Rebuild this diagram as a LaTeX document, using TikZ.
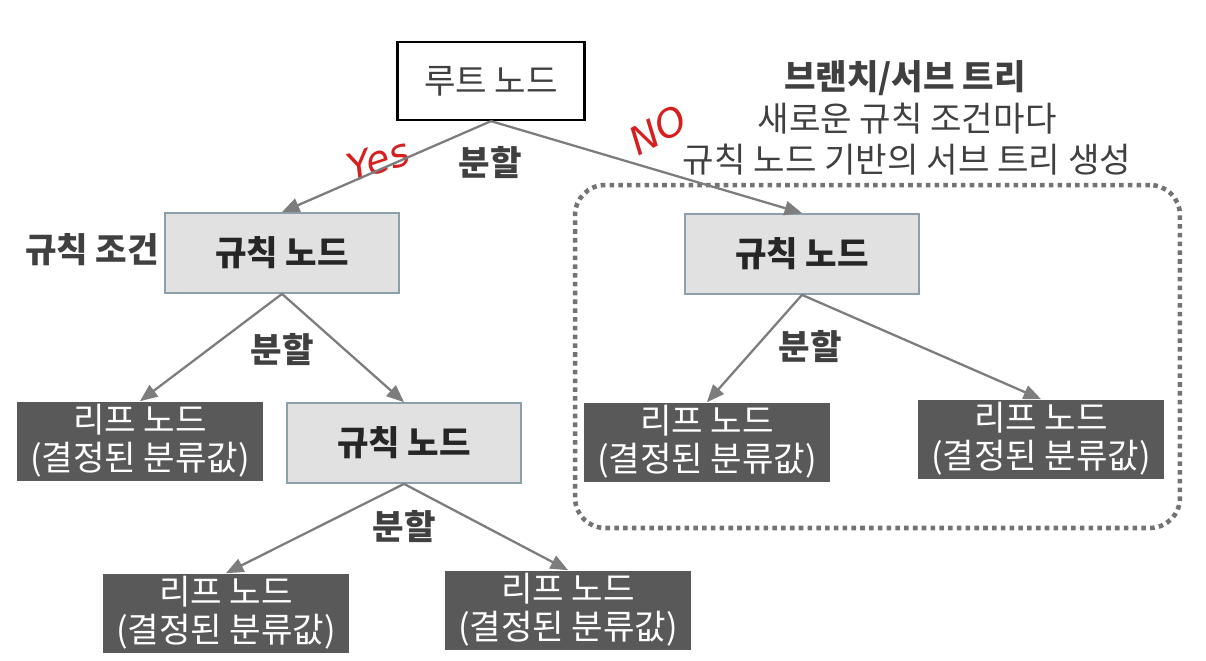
\documentclass[tikz,border=0pt]{standalone}
\usepackage{fontspec}
\setmainfont{Noto Sans CJK KR}
\newfontfamily\penfont{DejaVu Sans}
\usetikzlibrary{shapes.geometric, arrows}
\definecolor{rulefill}{RGB}{225,225,225}
\definecolor{ruleline}{RGB}{140,160,172}
\definecolor{leaffill}{RGB}{89,89,89}
\definecolor{edgegray}{RGB}{125,125,125}
\definecolor{textgray}{RGB}{64,64,64}
\definecolor{penred}{RGB}{214,32,32}
\newcommand{\bodyfont}{\fontsize{19.5}{21.5}\selectfont}
\tikzstyle{rootnode} = [rectangle, minimum width=3.74cm, minimum height=1.56cm, text centered, draw=black, line width=1.3pt, fill=white, text=textgray, font=\bodyfont]
\tikzstyle{rulenode} = [rectangle, minimum width=4.68cm, minimum height=1.6cm, text centered, draw=ruleline, line width=1pt, fill=rulefill, text=black!85, font=\bodyfont\bfseries]
\tikzstyle{leafnode} = [rectangle, minimum width=4.94cm, minimum height=1.58cm, inner sep=0pt, align=center, fill=leaffill, text=white, font=\bodyfont]
\tikzstyle{splittext} = [text=textgray, font=\bodyfont\bfseries]
\tikzstyle{note} = [text=textgray, font=\bodyfont]
\tikzstyle{pen} = [text=penred, font=\penfont\itshape\fontsize{22}{24}\selectfont, inner sep=0pt]
\tikzstyle{subtree} = [rectangle, rounded corners=0.6cm, draw=black!55, line width=2.6pt, dash pattern=on 2.6pt off 2.4pt, minimum width=12.1cm, minimum height=6.86cm]
\tikzstyle{edge} = [draw=edgegray, line width=1.3pt, ->, >=triangle 45]

\begin{document}
\begin{tikzpicture}[x=0.02cm, y=-0.02cm]
\useasboundingbox (0,0) rectangle (1206,660);

\node (box) [subtree] at (877.5,356.5) {};

\node (0) [rootnode] at (491,81) {루트 노드};
\node (1) [rulenode] at (282,253) {규칙 노드};
\node (2) [rulenode] at (802,254) {규칙 노드};
\node (3) [leafnode] at (140,441) {리프 노드\\(결정된 분류값)};
\node (4) [rulenode] at (404,443) {규칙 노드};
\node (5) [leafnode] at (226,613) {리프 노드\\(결정된 분류값)};
\node (6) [leafnode] at (568,610) {리프 노드\\(결정된 분류값)};
\node (7) [leafnode] at (707,442) {리프 노드\\(결정된 분류값)};
\node (8) [leafnode] at (1041,439) {리프 노드\\(결정된 분류값)};

\node (s0) [splittext] at (490,163) {분할};
\node (s1) [splittext] at (282,350) {분할};
\node (s4) [splittext] at (404,527) {분할};
\node (s2) [splittext] at (810,347) {분할};
\node (cond) [splittext] at (92,250) {규칙 조건};

\node (t1) [note, font=\bodyfont\bfseries] at (905,78) {브랜치/서브 트리};
\node (t2) [note] at (907,119) {새로운 규칙 조건마다};
\node (t3) [note] at (907,160) {규칙 노드 기반의 서브 트리 생성};

\node (yes) [pen, rotate=18] at (378,160) {Yes};
\node (no) [pen, rotate=28] at (658,130) {NO};

\draw [edge] (0.south) -- (1.north);
\draw [edge] (0.south) -- (2.north);
\draw [edge] (1.south) -- (3.north);
\draw [edge] (1.south) -- (4.north);
\draw [edge] (4.south) -- (5.north);
\draw [edge] (4.south) -- (6.north);
\draw [edge] (2.south) -- (7.north);
\draw [edge] (2.south) -- (8.north);

\end{tikzpicture}
\end{document}
